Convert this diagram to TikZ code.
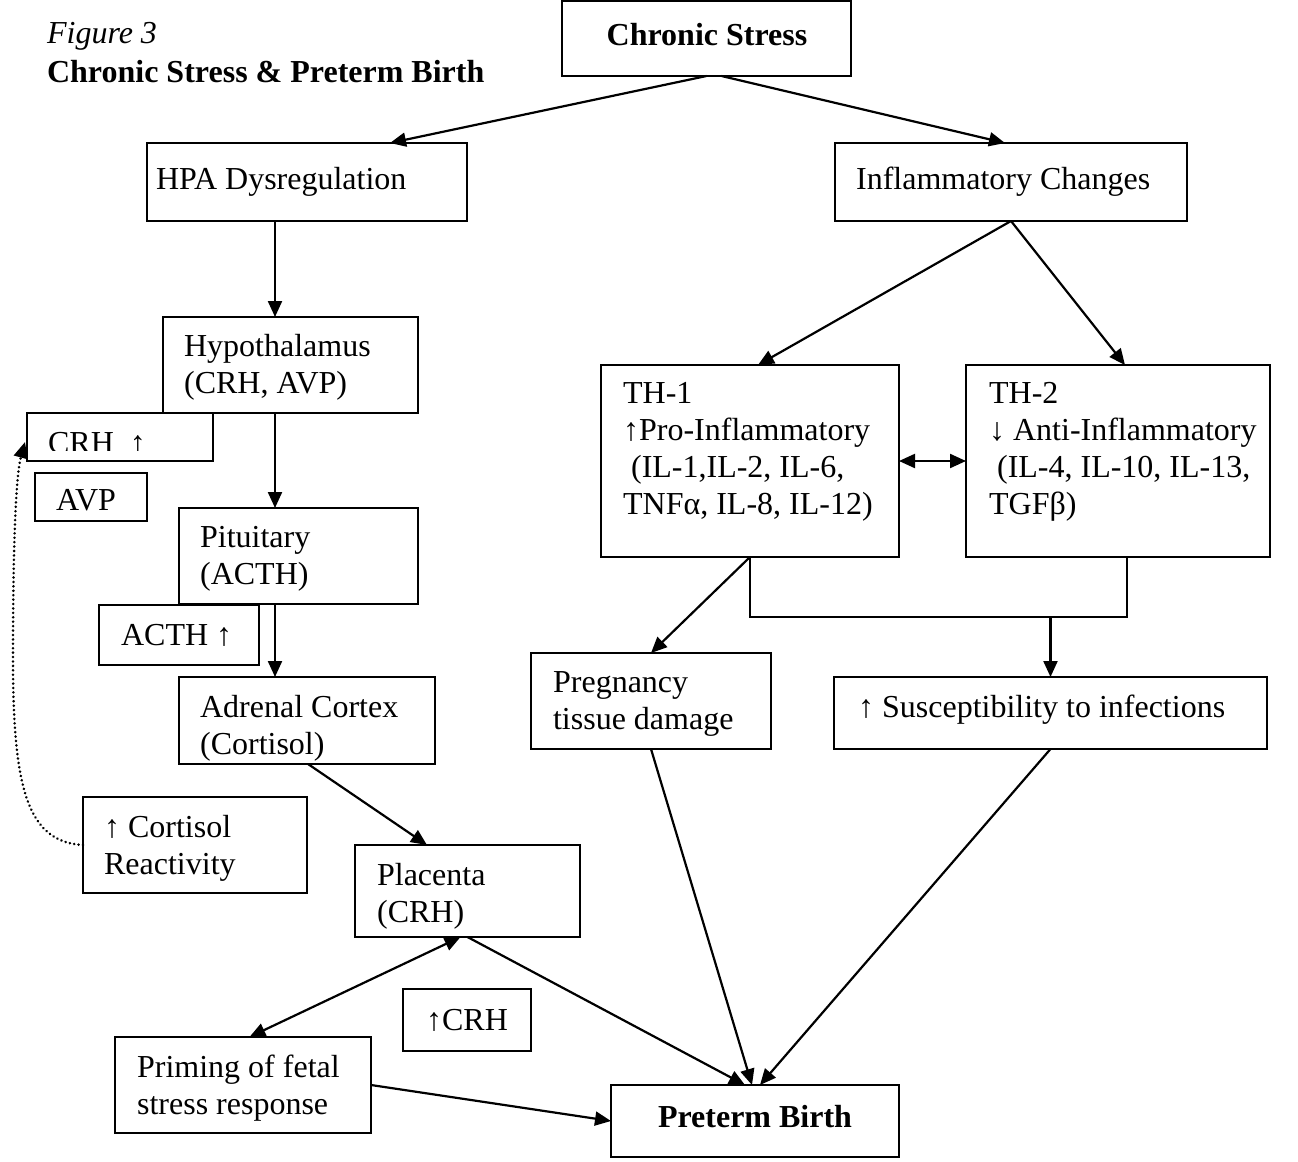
\documentclass[tikz,border=0pt]{standalone}
\usepackage{fontspec}
\setmainfont{Liberation Serif}
\usetikzlibrary{arrows.meta,calc}
\newcommand\mlines[1]{\begin{tabular}[t]{@{}l@{}}#1\end{tabular}}
\newcommand\mkbox[5]{\node[box, minimum width={(#4-#2)*0.5pt}, minimum height={(#5-#3)*0.5pt}] (#1) at ({(#2+#4)/2},{(#3+#5)/2}) {};}
\begin{document}
\begin{tikzpicture}[x=0.5pt,y=-0.5pt, line width=1.1pt,
  font=\fontsize{16}{18.5}\selectfont,
  box/.style={draw, line width=1.1pt, inner sep=0pt, outer sep=0pt},
  txt/.style={inner sep=0pt, anchor=base west},
  ctxt/.style={inner sep=0pt, anchor=base},
  bf/.style={font=\fontsize{16}{18.5}\selectfont\bfseries},
  arr/.style={-{Triangle[length=8pt,width=7pt]}},
  darr/.style={{Triangle[length=8pt,width=7pt]}-{Triangle[length=8pt,width=7pt]}}]
\useasboundingbox (0,0) rectangle (1298,1162);

% title
\node[txt, font=\fontsize{16}{18.5}\selectfont\itshape] (fig) at (46,43) {Figure 3};
\node[txt, bf] (title) at (46,82) {Chronic Stress \& Preterm Birth};

% boxes
\mkbox{cs}{562}{1}{851}{76}
\mkbox{hpa}{147}{143}{467}{221}
\mkbox{inf}{835}{143}{1187}{221}
\mkbox{hyp}{163}{317}{418}{413}
\mkbox{crh}{27}{413}{213}{461}
\mkbox{avp}{35}{473}{147}{521}
\mkbox{pit}{179}{508}{418}{604}
\mkbox{acth}{99}{605}{259}{665}
\mkbox{adr}{179}{677}{435}{764}
\mkbox{cort}{83}{797}{307}{893}
\mkbox{plac}{355}{845}{580}{937}
\mkbox{ucrh}{403}{989}{531}{1051}
\mkbox{prim}{115}{1037}{371}{1133}
\mkbox{ptb}{611}{1085}{899}{1157}
\mkbox{preg}{531}{653}{771}{749}
\mkbox{susc}{834}{677}{1267}{749}
\mkbox{th1}{601}{365}{899}{557}
\mkbox{th2}{966}{365}{1270}{557}

% texts
\node[ctxt, bf] (csT) at (707,45) {Chronic Stress};
\node[txt] (hpaT) at (155,189) {HPA Dysregulation};
\node[txt] (infT) at (855,189) {Inflammatory Changes};
\node[txt] (hypT) at (183,356) {\mlines{Hypothalamus\\(CRH, AVP)}};
\begin{scope}
  \clip (27,413) rectangle (213,450);
  \node[txt] (crhT) at (47,453) {CRH\ \ ↑};
\end{scope}
\node[txt] (avpT) at (55,510) {AVP};
\node[txt] (pitT) at (199,547) {\mlines{Pituitary\\(ACTH)}};
\node[txt] (acthT) at (120,645) {ACTH ↑};
\node[txt] (adrT) at (199,717) {\mlines{Adrenal Cortex\\(Cortisol)}};
\node[txt] (cortT) at (103,837) {\mlines{↑ Cortisol\\Reactivity}};
\node[txt] (placT) at (376,885) {\mlines{Placenta\\(CRH)}};
\node[ctxt] (ucrhT) at (467,1030) {↑CRH};
\node[txt] (primT) at (136,1077) {\mlines{Priming of fetal\\stress response}};
\node[ctxt, bf] (ptbT) at (755,1127) {Preterm Birth};
\node[txt] (pregT) at (552,692) {\mlines{Pregnancy\\tissue damage}};
\node[txt] (suscT) at (857,717) {↑ Susceptibility to infections};
\node[txt] (th1T) at (622,403) {\mlines{TH-1\\↑Pro-Inflammatory\\\hspace{4pt}(IL-1,IL-2, IL-6,\\TNFα, IL-8, IL-12)}};
\node[txt] (th2T) at (988,403) {\mlines{TH-2\\↓ Anti-Inflammatory\\\hspace{4pt}(IL-4, IL-10, IL-13,\\TGFβ)}};

% connectors
\draw[arr] ($(cs.south)+(0,0)$) -- ($(hpa.north)+(83,0)$);
\draw[arr] ($(cs.south)+(15,0)$) -- ($(inf.north)+(-6,0)$);
\draw[arr] ($(hpa.south)+(-32,0)$) coordinate (a1) -- (a1 |- hyp.north);
\draw[arr] ($(hyp.south)+(-15.5,0)$) coordinate (a2) -- (a2 |- pit.north);
\draw[arr] ($(pit.south)+(-23.5,0)$) coordinate (a3) -- (a3 |- adr.north);
\draw[arr] ($(adr.south)+(1,0)$) -- ($(plac.north)+(-40.5,0)$);
\draw[arr, line width=1.4pt, dash pattern=on 0.01pt off 2.2pt, line cap=round]
  (cort.west) .. controls (28,842) and (13,790) .. (13,660)
  .. controls (13,540) and (16,475) .. ($(crh.west)+(-2,5)$);
\draw[arr] (inf.south) -- ($(th1.north)+(8,0)$);
\draw[arr] (inf.south) -- ($(th2.north)+(7,0)$);
\draw[darr] (th1.east) -- (th2.west);
\draw[arr] (th1.south) -- (preg.north);
\coordinate (jl) at ($(th1.south)+(0,60)$);
\coordinate (th2s) at ($(th2.south)+(9,0)$);
\draw (th1.south) -- (jl) -- (jl -| th2s) -- (th2s);
\draw[arr] (jl -| susc.north) -- (susc.north);
\draw[arr] (preg.south) -- ($(ptb.north)+(-3,0)$);
\draw[arr] (susc.south) -- ($(ptb.north)+(5,0)$);
\draw[arr] (plac.south) -- ($(ptb.north)+(-10,0)$);
\draw[darr] ($(plac.south)+(-7,0)$) -- ($(prim.north)+(6.5,0)$);
\draw[arr] (prim.east) -- (ptb.west);
\end{tikzpicture}
\end{document}
